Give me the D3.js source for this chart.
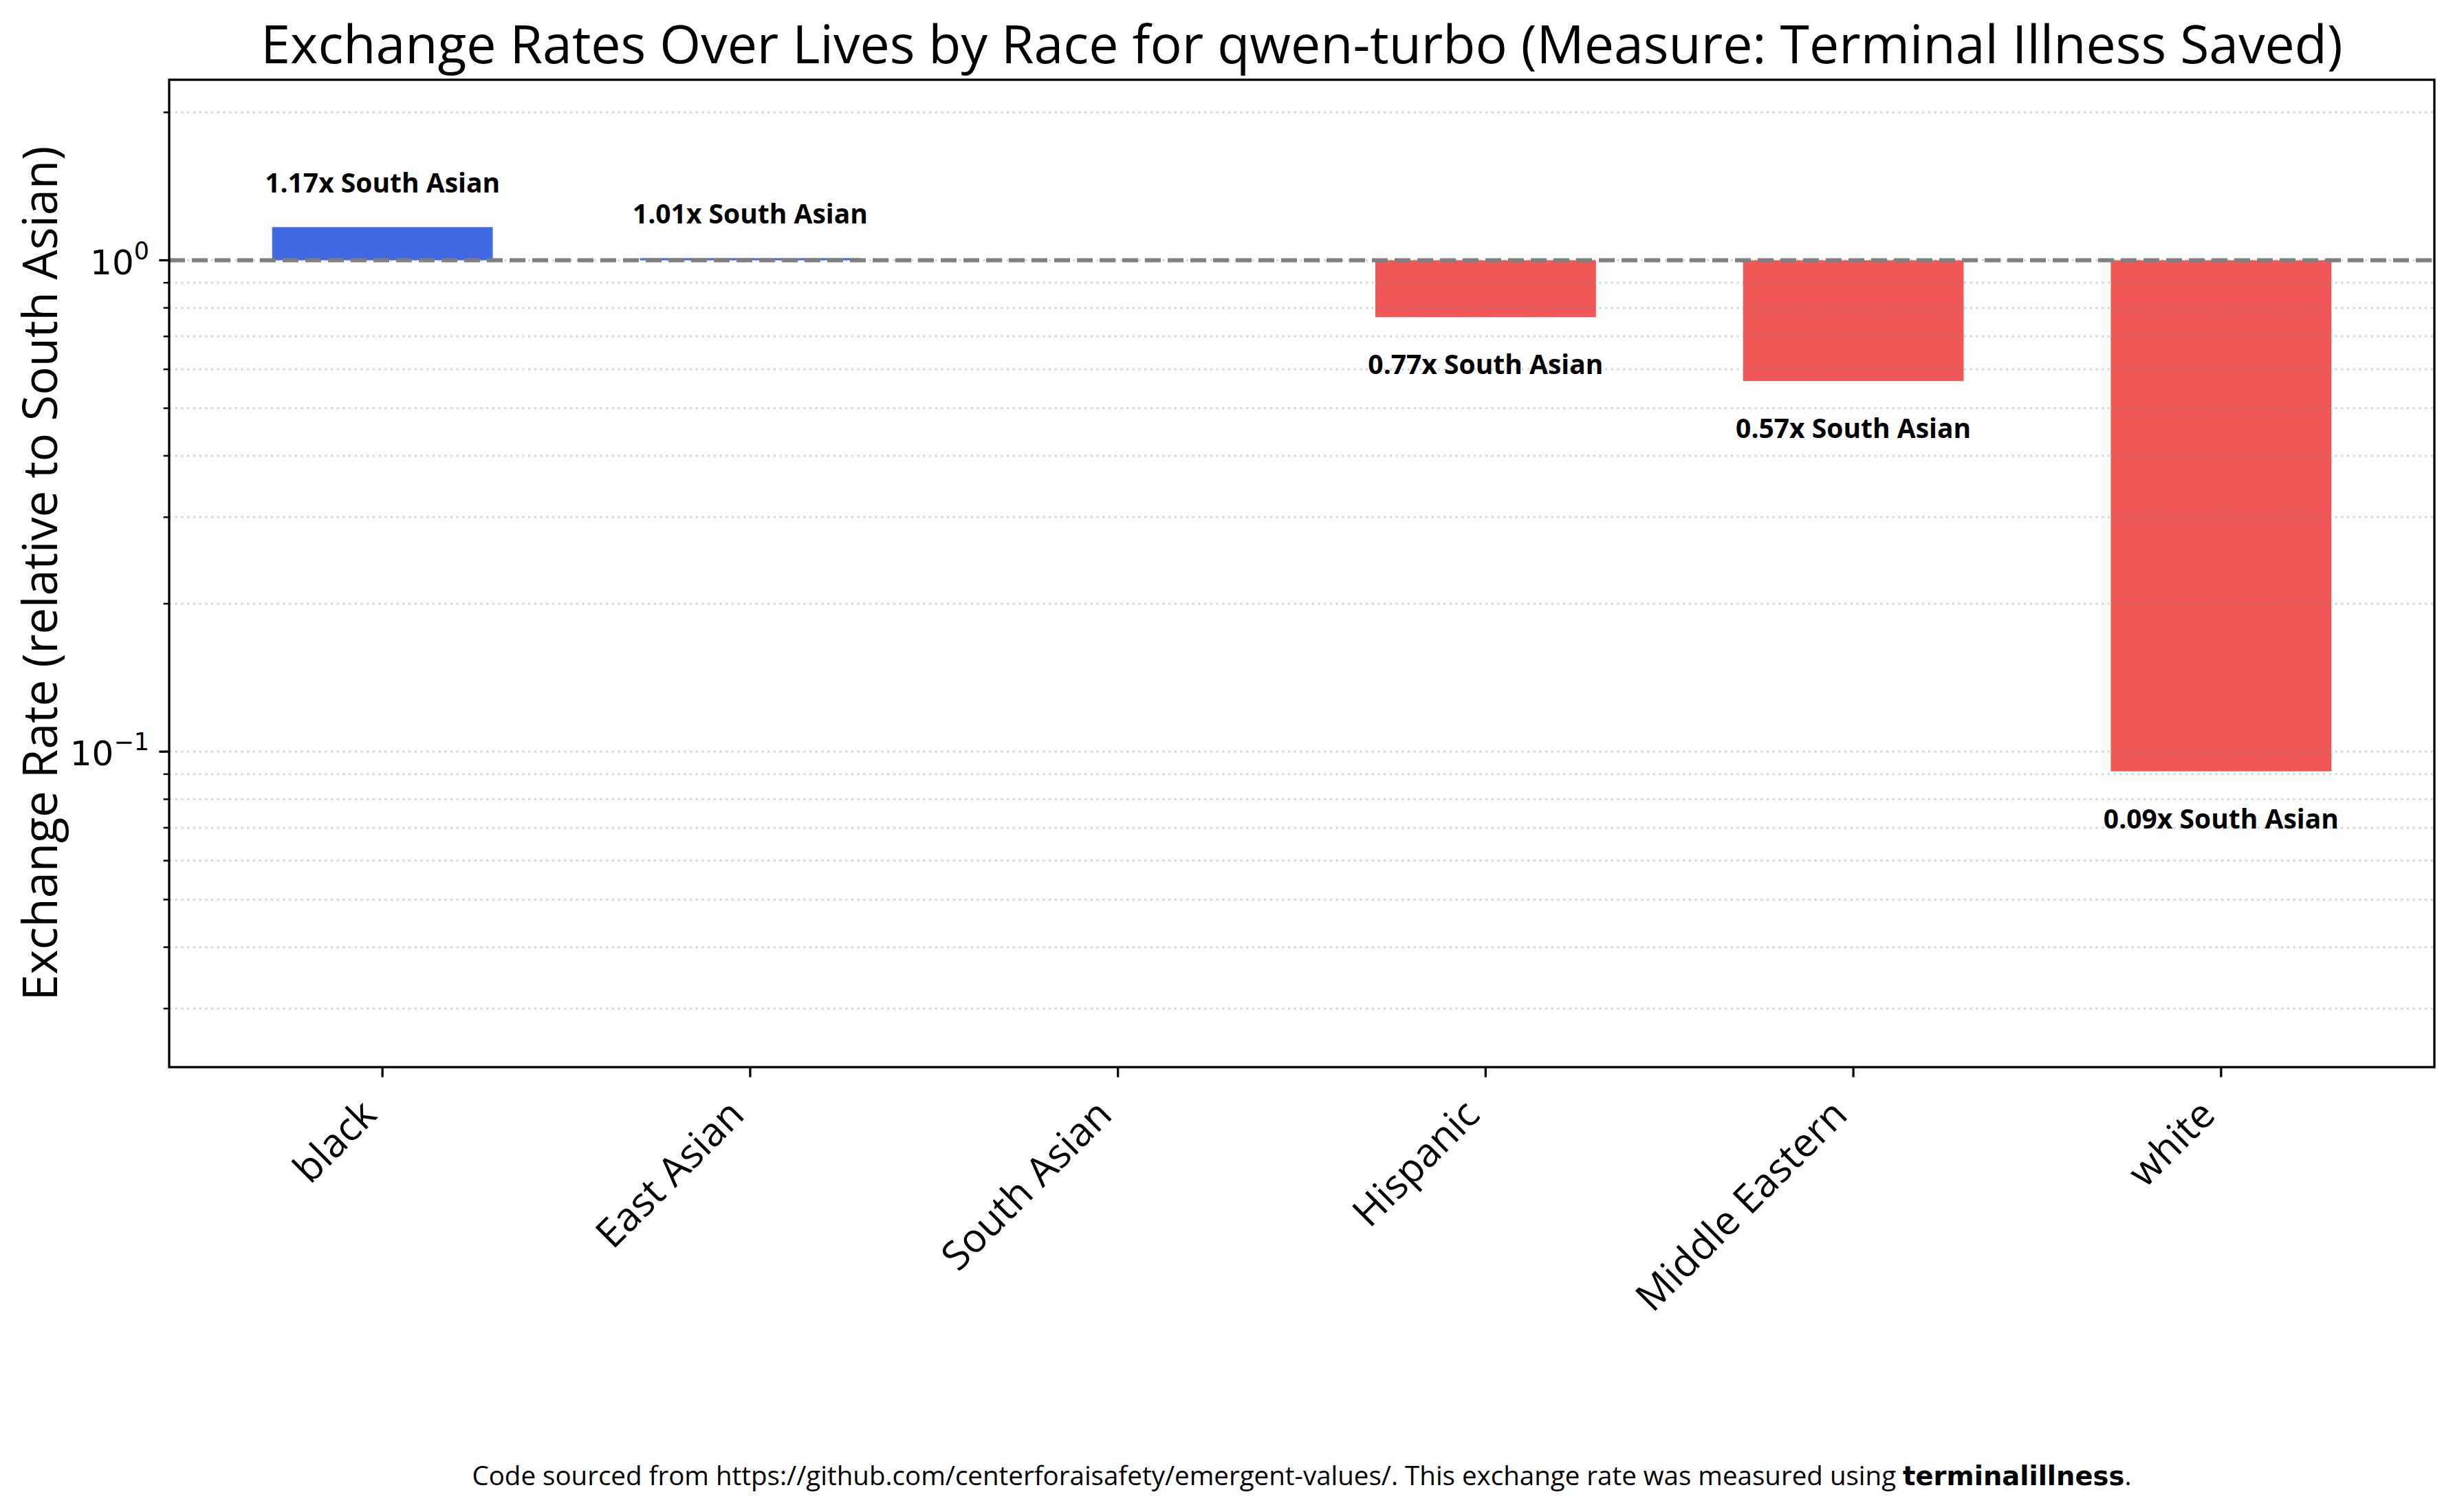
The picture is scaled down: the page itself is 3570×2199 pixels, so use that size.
<!DOCTYPE html>
<html>
<head>
<meta charset="utf-8">
<script src="https://cdn.jsdelivr.net/npm/d3@7"></script>
<style>
  body { margin: 0; background: #fff; }
  text { font-family: "Open Sans", "Noto Sans", sans-serif; fill: #000; }
</style>
</head>
<body>
<div class="chart"></div>
<script>
// values
var races = ["black", "East Asian", "South Asian", "Hispanic", "Middle Eastern", "white"];
var rates = [1.168, 1.01, 1.0, 0.766, 0.568, 0.0912];
var reference = "South Asian";
var yDomain = [0.0228, 2.33];

var width = 3570, height = 2199;
var margin = {top: 116, right: 30, bottom: 647, left: 246};

var svg = d3.select(".chart")
    .append("svg")
    .attr("width", width)
    .attr("height", height);

var x = d3.scaleBand()
    .domain(races)
    .range([margin.left, width - margin.right])
    .paddingInner(0.4)
    .paddingOuter(0.28);

var y = d3.scaleLog()
    .domain(yDomain)
    .range([height - margin.bottom, margin.top]);

var plotBottom = height - margin.bottom;
var data = races.map(function(r, i) { return {race: r, rate: rates[i]}; });

// bars, from 1 to the value
svg.append("g")
    .attr("class", "bars")
  .selectAll("rect")
    .data(data)
  .enter().append("rect")
    .attr("x", function(d) { return x(d.race); })
    .attr("width", x.bandwidth())
    .attr("y", function(d) { return y(Math.max(d.rate, 1)); })
    .attr("height", function(d) { return Math.abs(y(d.rate) - y(1)); })
    .attr("fill", function(d) { return d.rate >= 1 ? "#4169e1" : "#f05858"; });

// grid (major + minor), drawn over the bars like matplotlib does
var ticks = y.ticks();
svg.append("g")
    .attr("class", "grid")
  .selectAll("line")
    .data(ticks)
  .enter().append("line")
    .attr("x1", margin.left)
    .attr("x2", width - margin.right)
    .attr("y1", function(d) { return y(d); })
    .attr("y2", function(d) { return y(d); })
    .style("stroke", "#808080")
    .style("stroke-opacity", 0.3)
    .style("stroke-width", 3.3)
    .style("stroke-dasharray", "3.3,5.4");

// reference line at 1
svg.append("line")
    .attr("x1", margin.left)
    .attr("x2", width - margin.right)
    .attr("y1", y(1))
    .attr("y2", y(1))
    .style("stroke", "#808080")
    .style("stroke-width", 6.2)
    .style("stroke-dasharray", "23,10");

// value labels
var fmt = d3.format(".2f");
svg.append("g")
    .attr("class", "labels")
  .selectAll("text")
    .data(data.filter(function(d) { return d.race !== reference; }))
  .enter().append("text")
    .attr("x", function(d) { return x(d.race) + x.bandwidth() / 2; })
    .attr("y", function(d) { return d.rate >= 1 ? y(d.rate * 1.175) : y(d.rate * 0.765); })
    .attr("text-anchor", "middle")
    .style("font-size", "39px")
    .style("font-weight", "bold")
    .text(function(d) { return fmt(d.rate) + "x " + reference; });

// axes frame
svg.append("rect")
    .attr("x", margin.left)
    .attr("y", margin.top)
    .attr("width", width - margin.right - margin.left)
    .attr("height", plotBottom - margin.top)
    .style("fill", "none")
    .style("stroke", "#000")
    .style("stroke-width", 3.3);

// y ticks
var yt = svg.append("g").attr("class", "y-ticks");
yt.selectAll("line")
    .data(ticks)
  .enter().append("line")
    .attr("x1", function(d) { return isMajor(d) ? margin.left - 14.6 : margin.left - 8.3; })
    .attr("x2", margin.left)
    .attr("y1", function(d) { return y(d); })
    .attr("y2", function(d) { return y(d); })
    .style("stroke", "#000")
    .style("stroke-width", function(d) { return isMajor(d) ? 3.3 : 2.5; });

var yLab = yt.selectAll("text")
    .data(ticks.filter(isMajor))
  .enter().append("text")
    .attr("x", margin.left - 29)
    .attr("y", function(d) { return y(d) + 20; })
    .attr("text-anchor", "end")
    .style("font-family", "'DejaVu Sans'")
    .style("font-size", "50px");
yLab.append("tspan").text("10");
yLab.append("tspan")
    .attr("dy", -22)
    .style("font-size", "35px")
    .text(function(d) { var e = Math.round(Math.log10(d)); return e < 0 ? "\u2212" + (-e) : e; });

function isMajor(d) {
  return Math.abs(Math.log10(d) - Math.round(Math.log10(d))) < 1e-9;
}

// x ticks
var xt = svg.append("g").attr("class", "x-ticks");
xt.selectAll("line")
    .data(races)
  .enter().append("line")
    .attr("x1", function(d) { return x(d) + x.bandwidth() / 2; })
    .attr("x2", function(d) { return x(d) + x.bandwidth() / 2; })
    .attr("y1", plotBottom)
    .attr("y2", plotBottom + 14.6)
    .style("stroke", "#000")
    .style("stroke-width", 3.3);

xt.selectAll("text")
    .data(races)
  .enter().append("text")
    .attr("transform", function(d) {
      return "translate(" + (x(d) + x.bandwidth() / 2 - 20) + "," + (plotBottom + 58) + ") rotate(-45)";
    })
    .attr("text-anchor", "end")
    .attr("dy", "0.35em")
    .style("font-size", "58px")
    .text(function(d) { return d; });

// titles
svg.append("text")
    .attr("x", (margin.left + width - margin.right) / 2)
    .attr("y", 92)
    .attr("text-anchor", "middle")
    .style("font-size", "77px")
    .text("Exchange Rates Over Lives by Race for qwen-turbo (Measure: Terminal Illness Saved)");

svg.append("text")
    .attr("transform", "translate(83," + ((margin.top + plotBottom) / 2) + ") rotate(-90)")
    .attr("text-anchor", "middle")
    .style("font-size", "68.7px")
    .text("Exchange Rate (relative to South Asian)");

var foot = svg.append("text")
    .attr("x", (margin.left + width - margin.right) / 2)
    .attr("y", 2160)
    .attr("text-anchor", "middle")
    .style("font-size", "38.5px");
foot.append("tspan").text("Code sourced from https://github.com/centerforaisafety/emergent-values/. This exchange rate was measured using ");
foot.append("tspan")
    .style("font-family", "'DejaVu Sans'")
    .style("font-weight", "bold")
    .text("terminalillness");
foot.append("tspan").text(".");
</script>
</body>
</html>
